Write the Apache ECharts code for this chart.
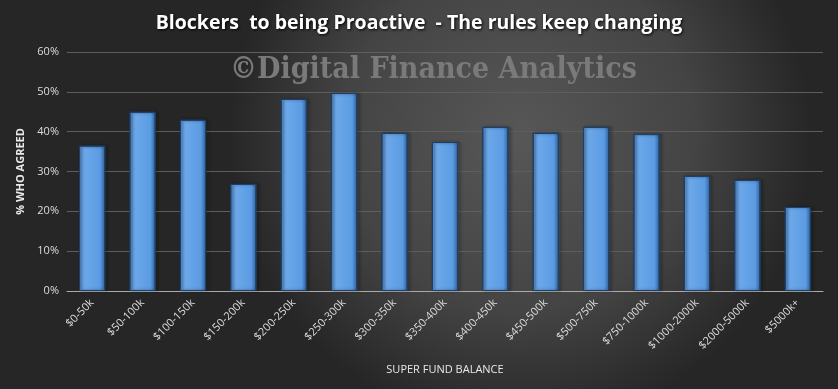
<!DOCTYPE html>
<html><head><meta charset="utf-8">
<script src="https://cdn.jsdelivr.net/npm/echarts@6/dist/echarts.min.js"></script>
<style>html,body{margin:0;padding:0;background:#333}#c{width:838px;height:389px}</style>
</head><body><div id="c"></div>
<script>
const categories = ['$0-50k','$50-100k','$100-150k','$150-200k','$200-250k','$250-300k','$300-350k','$350-400k','$400-450k','$450-500k','$500-750k','$750-1000k','$1000-2000k','$2000-5000k','$5000k+'];
const agreed = [36.5, 45.0, 43.0, 26.9, 48.2, 49.7, 39.7, 37.4, 41.2, 39.7, 41.2, 39.4, 28.9, 27.9, 21.1];
const yTicks = [0, 10, 20, 30, 40, 50, 60];

const chart = echarts.init(document.getElementById('c'));
chart.setOption({
  backgroundColor: {type:'radial', x:0.62, y:0.35, r:0.75, colorStops:[{offset:0,color:'#575757'},{offset:0.6,color:'#444'},{offset:1,color:'#262626'}]},
  title: {text:'Blockers  to being Proactive  - The rules keep changing', left:'center', top:8,
    textStyle:{color:'#fff', fontSize:19.5, fontWeight:'bold', fontFamily:'Open Sans', textShadowColor:'#000', textShadowBlur:3, textShadowOffsetX:1, textShadowOffsetY:1}},
  graphic: [{type:'text', left:230, top:55, style:{text:'©Digital Finance Analytics', fill:'#7a7a7a', font:'bold 30px "DejaVu Serif Condensed", "Liberation Serif", serif'}}],
  grid: {left:67, right:15, top:52, bottom:98},
  xAxis: {type:'category', data:categories, name:'SUPER FUND BALANCE', nameLocation:'middle', nameGap:73,
    nameTextStyle:{color:'#e8e8e8', fontSize:11, fontFamily:'Open Sans'},
    axisLine:{lineStyle:{color:'#aaa'}}, axisTick:{show:false},
    axisLabel:{rotate:45, color:'#ddd', fontSize:11, fontFamily:'Open Sans', margin:10}},
  yAxis: {type:'value', min:0, max:60, interval:10, name:'% WHO AGREED', nameLocation:'middle', nameGap:40,
    nameTextStyle:{color:'#e8e8e8', fontSize:11, fontWeight:'bold', fontFamily:'Open Sans'},
    axisLine:{show:false}, axisTick:{show:false},
    axisLabel:{color:'#ddd', fontSize:11, fontFamily:'Open Sans', formatter:v=> yTicks.includes(v)? v+'%':''},
    splitLine:{lineStyle:{color:'#5e5e5e'}}},
  series: [{type:'bar', data:agreed, barWidth:'52%',
    itemStyle:{color:{type:'linear', x:0, y:0, x2:1, y2:0, colorStops:[{offset:0,color:'#4f8fd6'},{offset:0.15,color:'#6eaaeb'},{offset:0.8,color:'#5b9be2'},{offset:1,color:'#2d5f98'}]},
      borderColor:'#1f3f66', borderWidth:1, shadowColor:'rgba(0,0,0,0.5)', shadowBlur:3, shadowOffsetX:2}}]
});
</script></body></html>
